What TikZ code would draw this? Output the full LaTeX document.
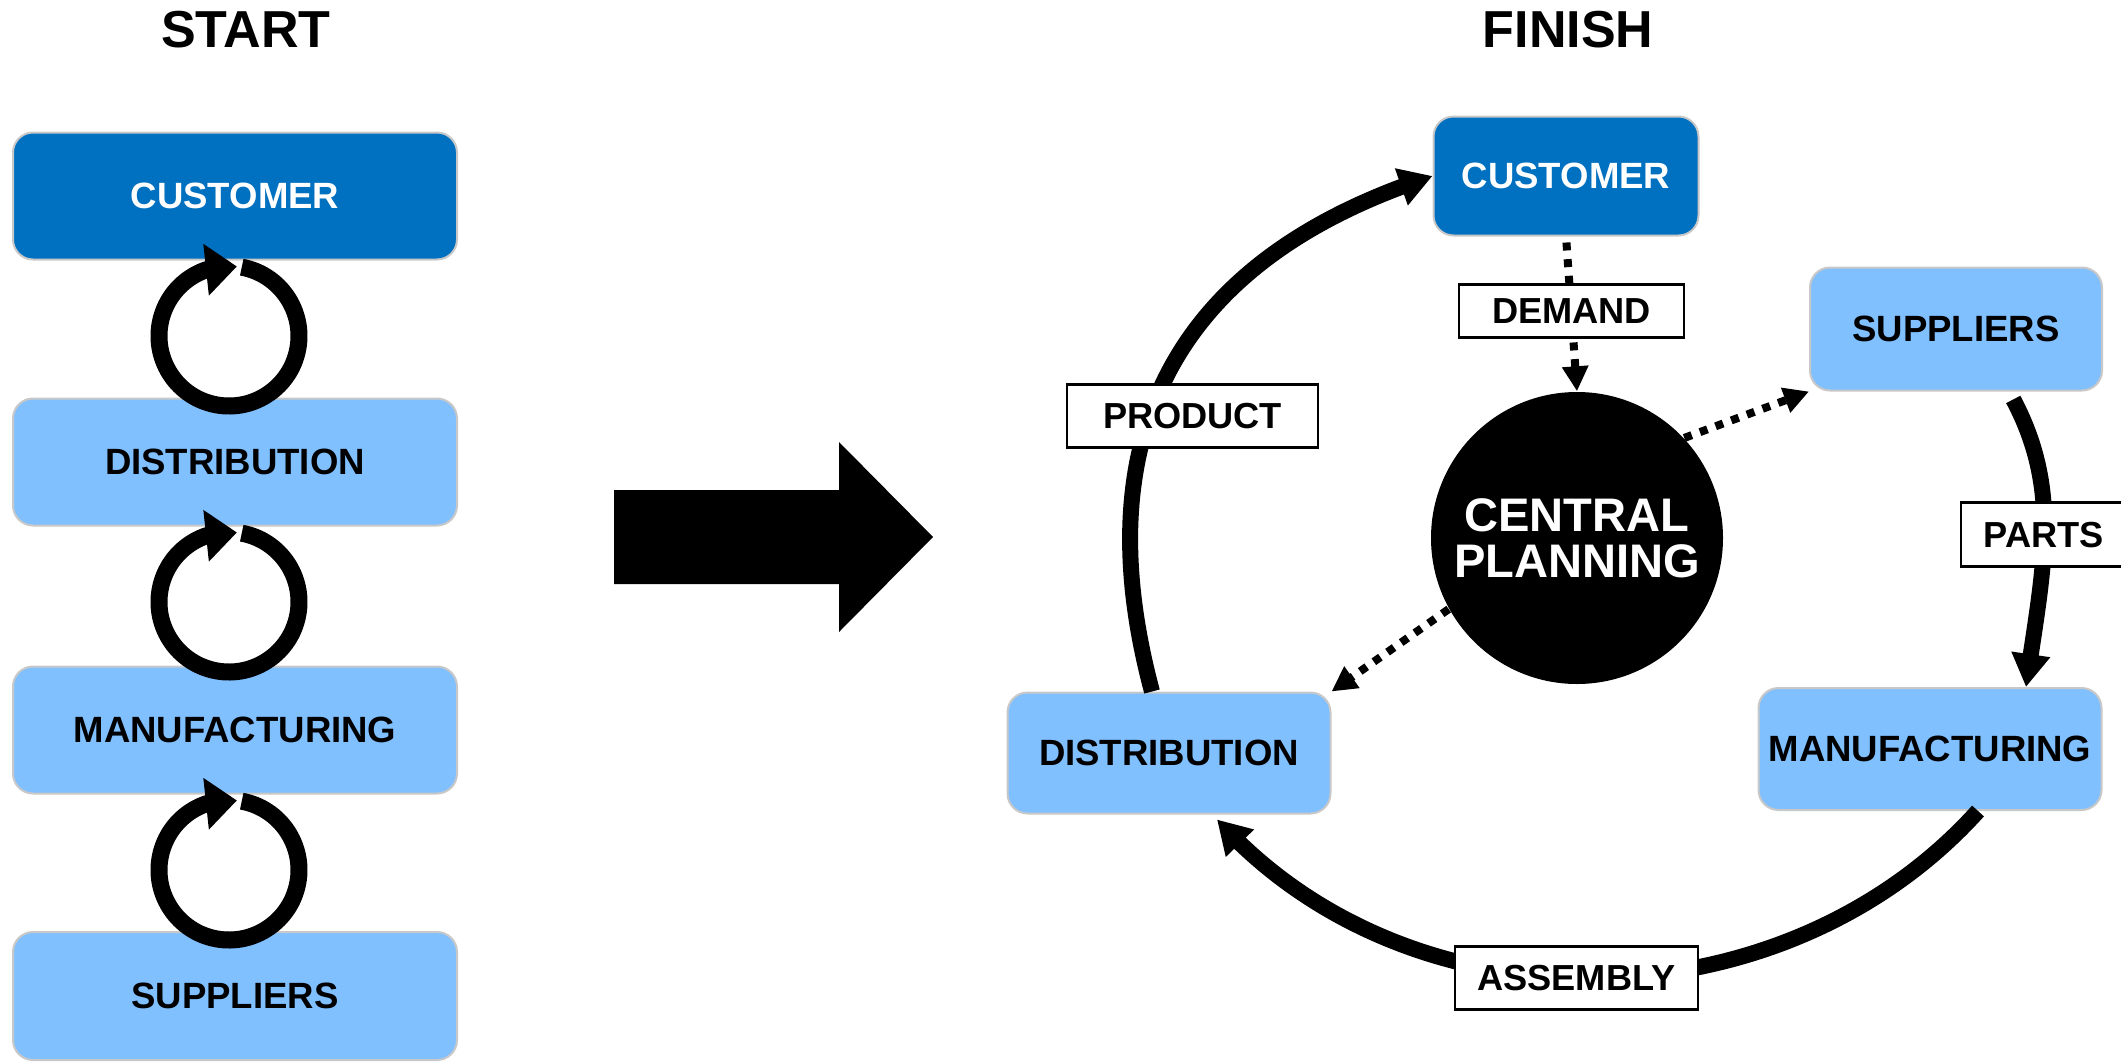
\documentclass[tikz,border=0pt]{standalone}
\usepackage{fontspec}
\setmainfont{Liberation Sans}
\usetikzlibrary{arrows.meta,bending}
\definecolor{darkblue}{HTML}{0070C0}
\definecolor{lightblue}{HTML}{80C0FF}
\definecolor{edgegray}{HTML}{C8C8C8}

\begin{document}
\begin{tikzpicture}[->,>={Triangle[length=0.33cm,width=0.37cm]},
  box/.style={draw=edgegray,line width=0.02cm,rounded corners=0.2cm,fill=lightblue,
    inner sep=0pt,font=\bfseries\fontsize{10.4}{12}\selectfont},
  darkbox/.style={box,fill=darkblue,text=white},
  lbl/.style={draw=black,solid,line width=0.025cm,fill=white,inner sep=0pt,
    minimum height=0.63cm,font=\bfseries\fontsize{10.3}{12}\selectfont},
  head/.style={font=\bfseries\fontsize{14.8}{17}\selectfont},
  flow/.style={line width=0.16cm},
  cyc/.style={line width=0.17cm,-{Triangle[length=0.31cm,width=0.5cm]}},
  dotline/.style={line width=0.08cm,dash pattern=on 0.08cm off 0.087cm,
    -{Triangle[length=0.25cm,width=0.25cm]}}]

\useasboundingbox (0,0) rectangle (21.21,10.61);

\node[head] (start) at (2.46,10.31) {START};
\node[head] (finish) at (15.68,10.31) {FINISH};

\node[darkbox,minimum width=4.44cm,minimum height=1.27cm] (c) at (2.35,8.65) {CUSTOMER};
\node[box,minimum width=4.44cm,minimum height=1.27cm] (d) at (2.35,5.99) {DISTRIBUTION};
\node[box,minimum width=4.44cm,minimum height=1.27cm] (m) at (2.35,3.31) {MANUFACTURING};
\node[box,minimum width=4.44cm,minimum height=1.28cm] (s) at (2.35,0.65) {SUPPLIERS};

\foreach \y in {7.25,4.59,1.91}
  \draw[cyc] (2.29,\y) ++(79.5:0.70) arc[start angle=79.5,end angle=-276.5,radius=0.70];

\fill[-] (6.14,5.71) -- (8.39,5.71) -- (8.39,6.19) -- (9.33,5.24) -- (8.39,4.29)
  -- (8.39,4.77) -- (6.14,4.77) -- cycle;

\node[darkbox,minimum width=2.65cm,minimum height=1.19cm] (c2) at (15.66,8.85) {CUSTOMER};
\node[box,minimum width=2.92cm,minimum height=1.23cm] (s2) at (19.56,7.32) {SUPPLIERS};
\node[box,minimum width=3.43cm,minimum height=1.22cm] (m2) at (19.30,3.12) {MANUFACTURING};
\node[box,minimum width=3.23cm,minimum height=1.21cm] (d2) at (11.69,3.08) {DISTRIBUTION};
\node[circle,fill=black,text=white,minimum size=2.92cm,inner sep=0pt,align=center,
  font=\bfseries\fontsize{13.4}{13.2}\selectfont] (p) at (15.77,5.23) {CENTRAL\\PLANNING};

\draw[dotline,shorten <=0.06cm] (c2.south) -- node[lbl,minimum width=2.25cm,minimum height=0.53cm,yshift=0.03cm] {DEMAND} (p.north);
\draw[dotline] (p.43) -- (s2.south west);
\draw[dotline] (p.209) -- (d2.north east);

\draw[flow] ([xshift=-0.17cm]d2.north) to[out=105,in=198,out looseness=1.12,in looseness=1.21]
  node[lbl,minimum width=2.51cm,pos=0.42,xshift=0.43cm] {PRODUCT} (c2.west);
\draw[flow,shorten <=0.09cm] ([xshift=0.53cm]s2.south) to[out=-62,in=82]
  node[lbl,minimum width=1.66cm,minimum height=0.64cm] {PARTS} ([xshift=0.96cm]m2.north);
\draw[flow] ([xshift=0.48cm]m2.south) to[out=-132,in=-48,looseness=0.98]
  node[lbl,minimum width=2.43cm,pos=0.525] {ASSEMBLY} ([xshift=0.48cm,yshift=-0.05cm]d2.south);

\end{tikzpicture}
\end{document}
